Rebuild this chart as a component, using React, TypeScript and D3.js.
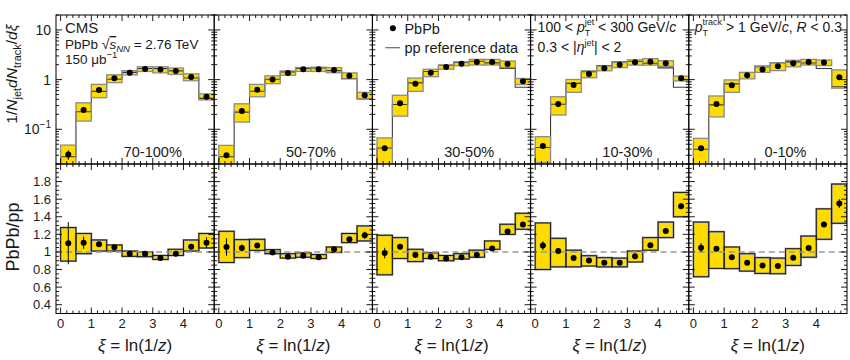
import React from "react";
import * as d3 from "d3";

// ---------- data ----------
const binEdges = [0, 0.5, 1, 1.5, 2, 2.5, 3, 3.5, 4, 4.5, 5];
const binCenters = [0.25, 0.75, 1.25, 1.75, 2.25, 2.75, 3.25, 3.75, 4.25, 4.75];
const centralityLabels = ["70-100%", "50-70%", "30-50%", "10-30%", "0-10%"];
const xTickLabels = [0, 1, 2, 3, 4];
const topTickValues = [0.1, 1, 10];
const ratioTickValues = [0.4, 0.6, 0.8, 1, 1.2, 1.4, 1.6, 1.8];

// PbPb distributions (top row)
const pbpb_70_100 = [0.031, 0.244, 0.618, 1.06, 1.38, 1.64, 1.59, 1.49, 1.13, 0.453];
const pbpb_50_70 = [0.030, 0.233, 0.627, 1.01, 1.36, 1.61, 1.62, 1.56, 1.2, 0.483];
const pbpb_30_50 = [0.0414, 0.334, 0.828, 1.38, 1.8, 2.09, 2.26, 2.26, 2.06, 0.925];
const pbpb_10_30 = [0.0461, 0.323, 0.78, 1.3, 1.69, 2.0, 2.23, 2.3, 2.13, 1.06];
const pbpb_0_10 = [0.0414, 0.323, 0.77, 1.22, 1.59, 1.85, 2.13, 2.26, 2.2, 1.12];

// relative systematic uncertainty of PbPb (top row)
const sys_70_100 = [0.55, 0.4, 0.3, 0.18, 0.1, 0.11, 0.14, 0.15, 0.16, 0.14];
const sys_50_70 = [0.58, 0.4, 0.28, 0.18, 0.1, 0.09, 0.1, 0.12, 0.14, 0.15];
const sys_30_50 = [0.62, 0.45, 0.3, 0.17, 0.1, 0.09, 0.13, 0.13, 0.15, 0.14];
const sys_10_30 = [0.54, 0.4, 0.29, 0.16, 0.11, 0.13, 0.12, 0.15, 0.13, 0.11];
const sys_0_10 = [0.59, 0.45, 0.28, 0.15, 0.12, 0.18, 0.15, 0.13, 0.13, 0.4];

// pp reference histograms
const pp_70_100 = [0.028, 0.225, 0.58, 1.02, 1.4, 1.67, 1.68, 1.5, 1.08, 0.42];
const pp_50_70 = [0.028, 0.222, 0.585, 1.015, 1.43, 1.68, 1.72, 1.52, 1.05, 0.41];
const pp_30_50 = [0.042, 0.315, 0.86, 1.46, 1.95, 2.22, 2.34, 2.17, 1.67, 0.7];
const pp_10_30 = [0.043, 0.32, 0.84, 1.44, 1.92, 2.28, 2.35, 2.14, 1.72, 0.7];
const pp_0_10 = [0.0395, 0.31, 0.82, 1.39, 1.88, 2.2, 2.28, 2.16, 1.68, 0.72];

// ratios PbPb/pp (bottom row)
const ratio_70_100 = [1.1, 1.105, 1.087, 1.053, 0.98, 0.98, 0.93, 0.98, 1.06, 1.105];
const ratio_50_70 = [1.056, 1.045, 1.072, 0.995, 0.946, 0.957, 0.94, 1.03, 1.144, 1.19];
const ratio_30_50 = [0.987, 1.06, 0.965, 0.946, 0.925, 0.94, 0.965, 1.04, 1.232, 1.312];
const ratio_10_30 = [1.072, 1.01, 0.93, 0.904, 0.878, 0.878, 0.95, 1.075, 1.238, 1.52];
const ratio_0_10 = [1.049, 1.037, 0.94, 0.878, 0.847, 0.84, 0.935, 1.045, 1.312, 1.55];

const ratioLo_70_100 = [0.896, 0.98, 1.01, 1.01, 0.95, 0.946, 0.915, 0.96, 1.01, 1.045];
const ratioHi_70_100 = [1.277, 1.21, 1.136, 1.079, 1.01, 1.0, 0.96, 1.03, 1.136, 1.21];
const ratioLo_50_70 = [0.88, 0.935, 1.018, 0.98, 0.93, 0.94, 0.925, 0.995, 1.106, 1.125];
const ratioHi_50_70 = [1.235, 1.14, 1.144, 1.026, 0.98, 0.99, 0.97, 1.056, 1.21, 1.296];
const ratioLo_30_50 = [0.74, 0.925, 0.89, 0.925, 0.9, 0.92, 0.94, 1.03, 1.2, 1.258];
const ratioHi_30_50 = [1.19, 1.163, 1.03, 0.99, 0.96, 0.98, 1.02, 1.125, 1.315, 1.44];
const ratioLo_10_30 = [0.8, 0.83, 0.83, 0.84, 0.83, 0.83, 0.886, 1.02, 1.163, 1.4];
const ratioHi_10_30 = [1.33, 1.155, 1.02, 0.957, 0.935, 0.93, 1.01, 1.163, 1.34, 1.677];
const ratioLo_0_10 = [0.718, 0.813, 0.81, 0.782, 0.756, 0.752, 0.847, 0.94, 1.144, 1.326];
const ratioHi_0_10 = [1.34, 1.23, 1.056, 0.98, 0.935, 0.93, 1.037, 1.181, 1.49, 1.772];

// statistical errors of the ratio
const ratioErr_70_100 = [0.24, 0.07, 0.03, 0.02, 0.01, 0.01, 0.01, 0.015, 0.02, 0.06];
const ratioErr_50_70 = [0.1, 0.04, 0.02, 0.01, 0.01, 0.01, 0.01, 0.01, 0.02, 0.04];
const ratioErr_30_50 = [0.06, 0.03, 0.02, 0.01, 0.01, 0.01, 0.01, 0.01, 0.02, 0.03];
const ratioErr_10_30 = [0.05, 0.03, 0.02, 0.01, 0.01, 0.01, 0.01, 0.01, 0.02, 0.03];
const ratioErr_0_10 = [0.05, 0.03, 0.02, 0.01, 0.01, 0.01, 0.01, 0.01, 0.02, 0.05];

const panels = [
  { label: centralityLabels[0], pbpb: pbpb_70_100, sys: sys_70_100, pp: pp_70_100, ratio: ratio_70_100, lo: ratioLo_70_100, hi: ratioHi_70_100, err: ratioErr_70_100 },
  { label: centralityLabels[1], pbpb: pbpb_50_70, sys: sys_50_70, pp: pp_50_70, ratio: ratio_50_70, lo: ratioLo_50_70, hi: ratioHi_50_70, err: ratioErr_50_70 },
  { label: centralityLabels[2], pbpb: pbpb_30_50, sys: sys_30_50, pp: pp_30_50, ratio: ratio_30_50, lo: ratioLo_30_50, hi: ratioHi_30_50, err: ratioErr_30_50 },
  { label: centralityLabels[3], pbpb: pbpb_10_30, sys: sys_10_30, pp: pp_10_30, ratio: ratio_10_30, lo: ratioLo_10_30, hi: ratioHi_10_30, err: ratioErr_10_30 },
  { label: centralityLabels[4], pbpb: pbpb_0_10, sys: sys_0_10, pp: pp_0_10, ratio: ratio_0_10, lo: ratioLo_0_10, hi: ratioHi_0_10, err: ratioErr_0_10 },
];

// ---------- layout ----------
const W = 850, H = 360;
const PANEL_LEFT = 56, PANEL_W = 158.2;
const TOP_Y0 = 15, TOP_Y1 = 164, BOT_Y0 = 164, BOT_Y1 = 313.5;
const YELLOW = "#FFDC00";
const FONT = "'Liberation Sans', Arial, Helvetica, sans-serif";
const TXT = "#1a1a1a";
const MAJ = 6, MIN = 3;
const DOT_R = 3;

const yTop = d3.scaleLog().domain([0.02, 20]).range([TOP_Y1, TOP_Y0]);
const yBot = d3.scaleLinear().domain([0.3, 2.0]).range([BOT_Y1, BOT_Y0]);

const logMinor: number[] = [];
[0.01, 0.1, 1, 10].forEach((dec) => {
  for (let k = 2; k <= 9; k++) {
    const v = k * dec;
    if (v >= 0.02 && v <= 20) logMinor.push(v);
  }
});
const xMinor = d3.range(0, 51, 2).map((v) => v / 10).filter((v) => Math.abs(v - Math.round(v)) > 1e-6);
const ratioMinor = d3.range(30, 201, 5).map((v) => v / 100).filter((v) => Math.abs(v * 5 - Math.round(v * 5)) > 1e-6);
const ratioMajor = d3.range(4, 20, 2).map((v) => v / 10);

function Panel({ p, i }: { p: any; i: number }) {
  const x0 = PANEL_LEFT + i * PANEL_W;
  const x1 = x0 + PANEL_W;
  const x = d3.scaleLinear().domain([-0.15, 5.0]).range([x0, x1]);
  const clipTop = `clipTop${i}`;
  const clipBot = `clipBot${i}`;

  const stepPts: [number, number][] = [[0, 0.02], [0, p.pp[0]]];
  p.pp.forEach((v: number, k: number) => stepPts.push([binEdges[k], v]));
  stepPts.push([5, p.pp[p.pp.length - 1]]);
  const stepLine = d3.line<[number, number]>().x((d) => x(d[0])).y((d) => yTop(d[1])).curve(d3.curveStepAfter);

  const ticksLines: any[] = [];
  [...xTickLabels.map((v) => [v, MAJ]), ...xMinor.map((v) => [v, MIN])].forEach(([v, len], k) => {
    const xx = x(v);
    ticksLines.push(<line key={`tb${k}`} x1={xx} x2={xx} y1={TOP_Y1} y2={TOP_Y1 - len} />);
    ticksLines.push(<line key={`tt${k}`} x1={xx} x2={xx} y1={TOP_Y0} y2={TOP_Y0 + len} />);
    ticksLines.push(<line key={`bb${k}`} x1={xx} x2={xx} y1={BOT_Y1} y2={BOT_Y1 - len} />);
    ticksLines.push(<line key={`bt${k}`} x1={xx} x2={xx} y1={BOT_Y0} y2={BOT_Y0 + len} />);
  });
  [...topTickValues.map((v) => [v, MAJ]), ...logMinor.map((v) => [v, MIN])].forEach(([v, len], k) => {
    const yy = yTop(v);
    ticksLines.push(<line key={`yl${k}`} x1={x0} x2={x0 + len} y1={yy} y2={yy} />);
    ticksLines.push(<line key={`yr${k}`} x1={x1} x2={x1 - len} y1={yy} y2={yy} />);
  });
  [...ratioMajor.map((v) => [v, MAJ]), ...ratioMinor.map((v) => [v, MIN])].forEach(([v, len], k) => {
    const yy = yBot(v);
    ticksLines.push(<line key={`rl${k}`} x1={x0} x2={x0 + len} y1={yy} y2={yy} />);
    ticksLines.push(<line key={`rr${k}`} x1={x1} x2={x1 - len} y1={yy} y2={yy} />);
  });

  return (
    <g>
      <defs>
        <clipPath id={clipTop}><rect x={x0} y={TOP_Y0} width={PANEL_W} height={TOP_Y1 - TOP_Y0} /></clipPath>
        <clipPath id={clipBot}><rect x={x0} y={BOT_Y0} width={PANEL_W} height={BOT_Y1 - BOT_Y0} /></clipPath>
      </defs>
      {/* top row */}
      <g clipPath={`url(#${clipTop})`}>
        {p.pbpb.map((v: number, k: number) => {
          const hi = v * (1 + p.sys[k]);
          const lo = Math.max(v * (1 - p.sys[k]), 0.005);
          return <rect key={`tf${k}`} x={x(binEdges[k])} width={x(binEdges[k + 1]) - x(binEdges[k])} y={yTop(hi)} height={yTop(lo) - yTop(hi)} fill={YELLOW} />;
        })}
        <path d={stepLine(stepPts) || ""} fill="none" stroke="#3a3a3a" strokeWidth={1.1} />
        {p.pbpb.map((v: number, k: number) => {
          const hi = v * (1 + p.sys[k]);
          const lo = Math.max(v * (1 - p.sys[k]), 0.005);
          return <rect key={`to${k}`} x={x(binEdges[k])} width={x(binEdges[k + 1]) - x(binEdges[k])} y={yTop(hi)} height={yTop(lo) - yTop(hi)} fill="none" stroke="#8c8c8c" strokeWidth={1.3} />;
        })}
        {p.pbpb.map((v: number, k: number) => {
          const e = v * p.err[k] / p.ratio[k];
          return (
            <g key={`tp${k}`}>
              <line x1={x(binCenters[k])} x2={x(binCenters[k])} y1={yTop(v + e)} y2={yTop(Math.max(v - e, 0.001))} stroke="#000" strokeWidth={1} />
              <circle cx={x(binCenters[k])} cy={yTop(v)} r={DOT_R} fill="#000" />
            </g>
          );
        })}
      </g>
      {/* bottom row */}
      <g clipPath={`url(#${clipBot})`}>
        {p.ratio.map((v: number, k: number) => (
          <rect key={`rf${k}`} x={x(binEdges[k])} width={x(binEdges[k + 1]) - x(binEdges[k])} y={yBot(p.hi[k])} height={yBot(p.lo[k]) - yBot(p.hi[k])} fill={YELLOW} stroke="#9a9a9a" strokeWidth={2} />
        ))}
        {p.ratio.map((v: number, k: number) => (
          <rect key={`ro${k}`} x={x(binEdges[k])} width={x(binEdges[k + 1]) - x(binEdges[k])} y={yBot(p.hi[k])} height={yBot(p.lo[k]) - yBot(p.hi[k])} fill="none" stroke="#111" strokeWidth={0.9} />
        ))}
        <line x1={x0} x2={x1} y1={yBot(1)} y2={yBot(1)} stroke="#999" strokeWidth={1.6} strokeDasharray="6,4" />
        {p.ratio.map((v: number, k: number) => (
          <g key={`rp${k}`}>
            <line x1={x(binCenters[k])} x2={x(binCenters[k])} y1={yBot(v + p.err[k])} y2={yBot(v - p.err[k])} stroke="#000" strokeWidth={1} />
            <circle cx={x(binCenters[k])} cy={yBot(v)} r={DOT_R} fill="#000" />
          </g>
        ))}
      </g>
      {/* ticks & frames */}
      <g stroke="#000" strokeWidth={0.9}>{ticksLines}</g>
      <rect x={x0} y={TOP_Y0} width={PANEL_W} height={TOP_Y1 - TOP_Y0} fill="none" stroke="#000" strokeWidth={1} />
      <rect x={x0} y={BOT_Y0} width={PANEL_W} height={BOT_Y1 - BOT_Y0} fill="none" stroke="#000" strokeWidth={1} />
      {/* centrality label */}
      <text x={x(3)} y={157} textAnchor="middle" fontSize={14.5} fill={TXT}>{p.label}</text>
      {/* x tick labels */}
      {xTickLabels.map((v) => (
        <text key={`xl${v}`} x={x(v)} y={328} textAnchor="middle" fontSize={13} fill={TXT}>{v}</text>
      ))}
      {/* x axis title */}
      <text x={(x0 + x1) / 2} y={351} textAnchor="middle" fontSize={17} fill={TXT}>
        <tspan fontStyle="italic">ξ</tspan> = ln(1/<tspan fontStyle="italic">z</tspan>)
      </text>
    </g>
  );
}

export default function App() {
  const px = (i: number) => PANEL_LEFT + i * PANEL_W;
  return (
    <div style={{ position: "fixed", left: 0, top: 0, width: W, height: H, background: "#fff" }}>
      <svg width={W} height={H} style={{ fontFamily: FONT, display: "block" }}>
        <rect width={W} height={H} fill="#fff" />
        {panels.map((p, i) => <Panel key={i} p={p} i={i} />)}

        {/* y tick labels top */}
        {topTickValues.map((v) => (
          <text key={`ytl${v}`} x={51} y={yTop(v) + 5} textAnchor="end" fontSize={14} fill={TXT}>
            {v === 0.1 ? (<>10<tspan dy={-6} fontSize={10}>−1</tspan></>) : String(v)}
          </text>
        ))}
        {/* y tick labels bottom */}
        {ratioTickValues.map((v) => (
          <text key={`ybl${v}`} x={51} y={yBot(v) + 4.5} textAnchor="end" fontSize={13} fill={TXT}>{String(v)}</text>
        ))}

        {/* y axis titles */}
        <text transform={`translate(17,74) rotate(-90)`} textAnchor="middle" fontSize={15.5} fill={TXT}>
          1/<tspan fontStyle="italic">N</tspan><tspan fontSize={11} dy={4}>jet</tspan><tspan dy={-4} fontStyle="italic">dN</tspan><tspan fontSize={11} dy={4}>track</tspan><tspan dy={-4}>/</tspan><tspan fontStyle="italic">dξ</tspan>
        </text>
        <text transform={`translate(19,237) rotate(-90)`} textAnchor="middle" fontSize={18} fill={TXT}>PbPb/pp</text>

        {/* panel 1 annotations */}
        <text x={px(0) + 9} y={33} fontSize={15} fill={TXT}>CMS</text>
        <text x={px(0) + 9} y={49} fontSize={13.5} fill={TXT}>
          PbPb <tspan fontSize={14}>√</tspan><tspan fontStyle="italic" textDecoration="overline">s</tspan><tspan fontStyle="italic" fontSize={9.5} dy={3}>NN</tspan><tspan dy={-3}> = 2.76 TeV</tspan>
        </text>
        <text x={px(0) + 9} y={64} fontSize={13.5} fill={TXT}>
          150 μb<tspan dy={-6} fontSize={9.5}>−1</tspan>
        </text>

        {/* legend in panel 3 */}
        <circle cx={px(2) + 20.5} cy={28.3} r={DOT_R} fill="#000" />
        <text x={px(2) + 32} y={33.5} fontSize={14.5} fill={TXT}>PbPb</text>
        <line x1={px(2) + 13} x2={px(2) + 27.5} y1={47.7} y2={47.7} stroke="#666" strokeWidth={1.2} />
        <text x={px(2) + 32} y={52.5} fontSize={14.5} fill={TXT}>pp reference data</text>

        {/* panel 4 annotations */}
        <text x={px(3) + 7} y={32} fontSize={14} fill={TXT}>
          100 &lt; <tspan fontStyle="italic">p</tspan><tspan fontSize={9} dy={4}>T</tspan><tspan fontSize={9} dx={-5.5} dy={-11}>jet</tspan><tspan dy={7}> &lt; 300 GeV/</tspan><tspan fontStyle="italic">c</tspan>
        </text>
        <text x={px(3) + 7} y={52} fontSize={14} fill={TXT}>
          0.3 &lt; |<tspan fontStyle="italic">η</tspan><tspan fontSize={9} dy={-6}>jet</tspan><tspan dy={6}>| &lt; 2</tspan>
        </text>

        {/* panel 5 annotations */}
        <text x={px(4) + 6} y={32} fontSize={14} fill={TXT}>
          <tspan fontStyle="italic">p</tspan><tspan fontSize={9} dy={4}>T</tspan><tspan fontSize={9} dx={-5.5} dy={-11}>track</tspan><tspan dy={7}> &gt; 1 GeV/</tspan><tspan fontStyle="italic">c</tspan>, <tspan fontStyle="italic">R</tspan> &lt; 0.3
        </text>
      </svg>
    </div>
  );
}
